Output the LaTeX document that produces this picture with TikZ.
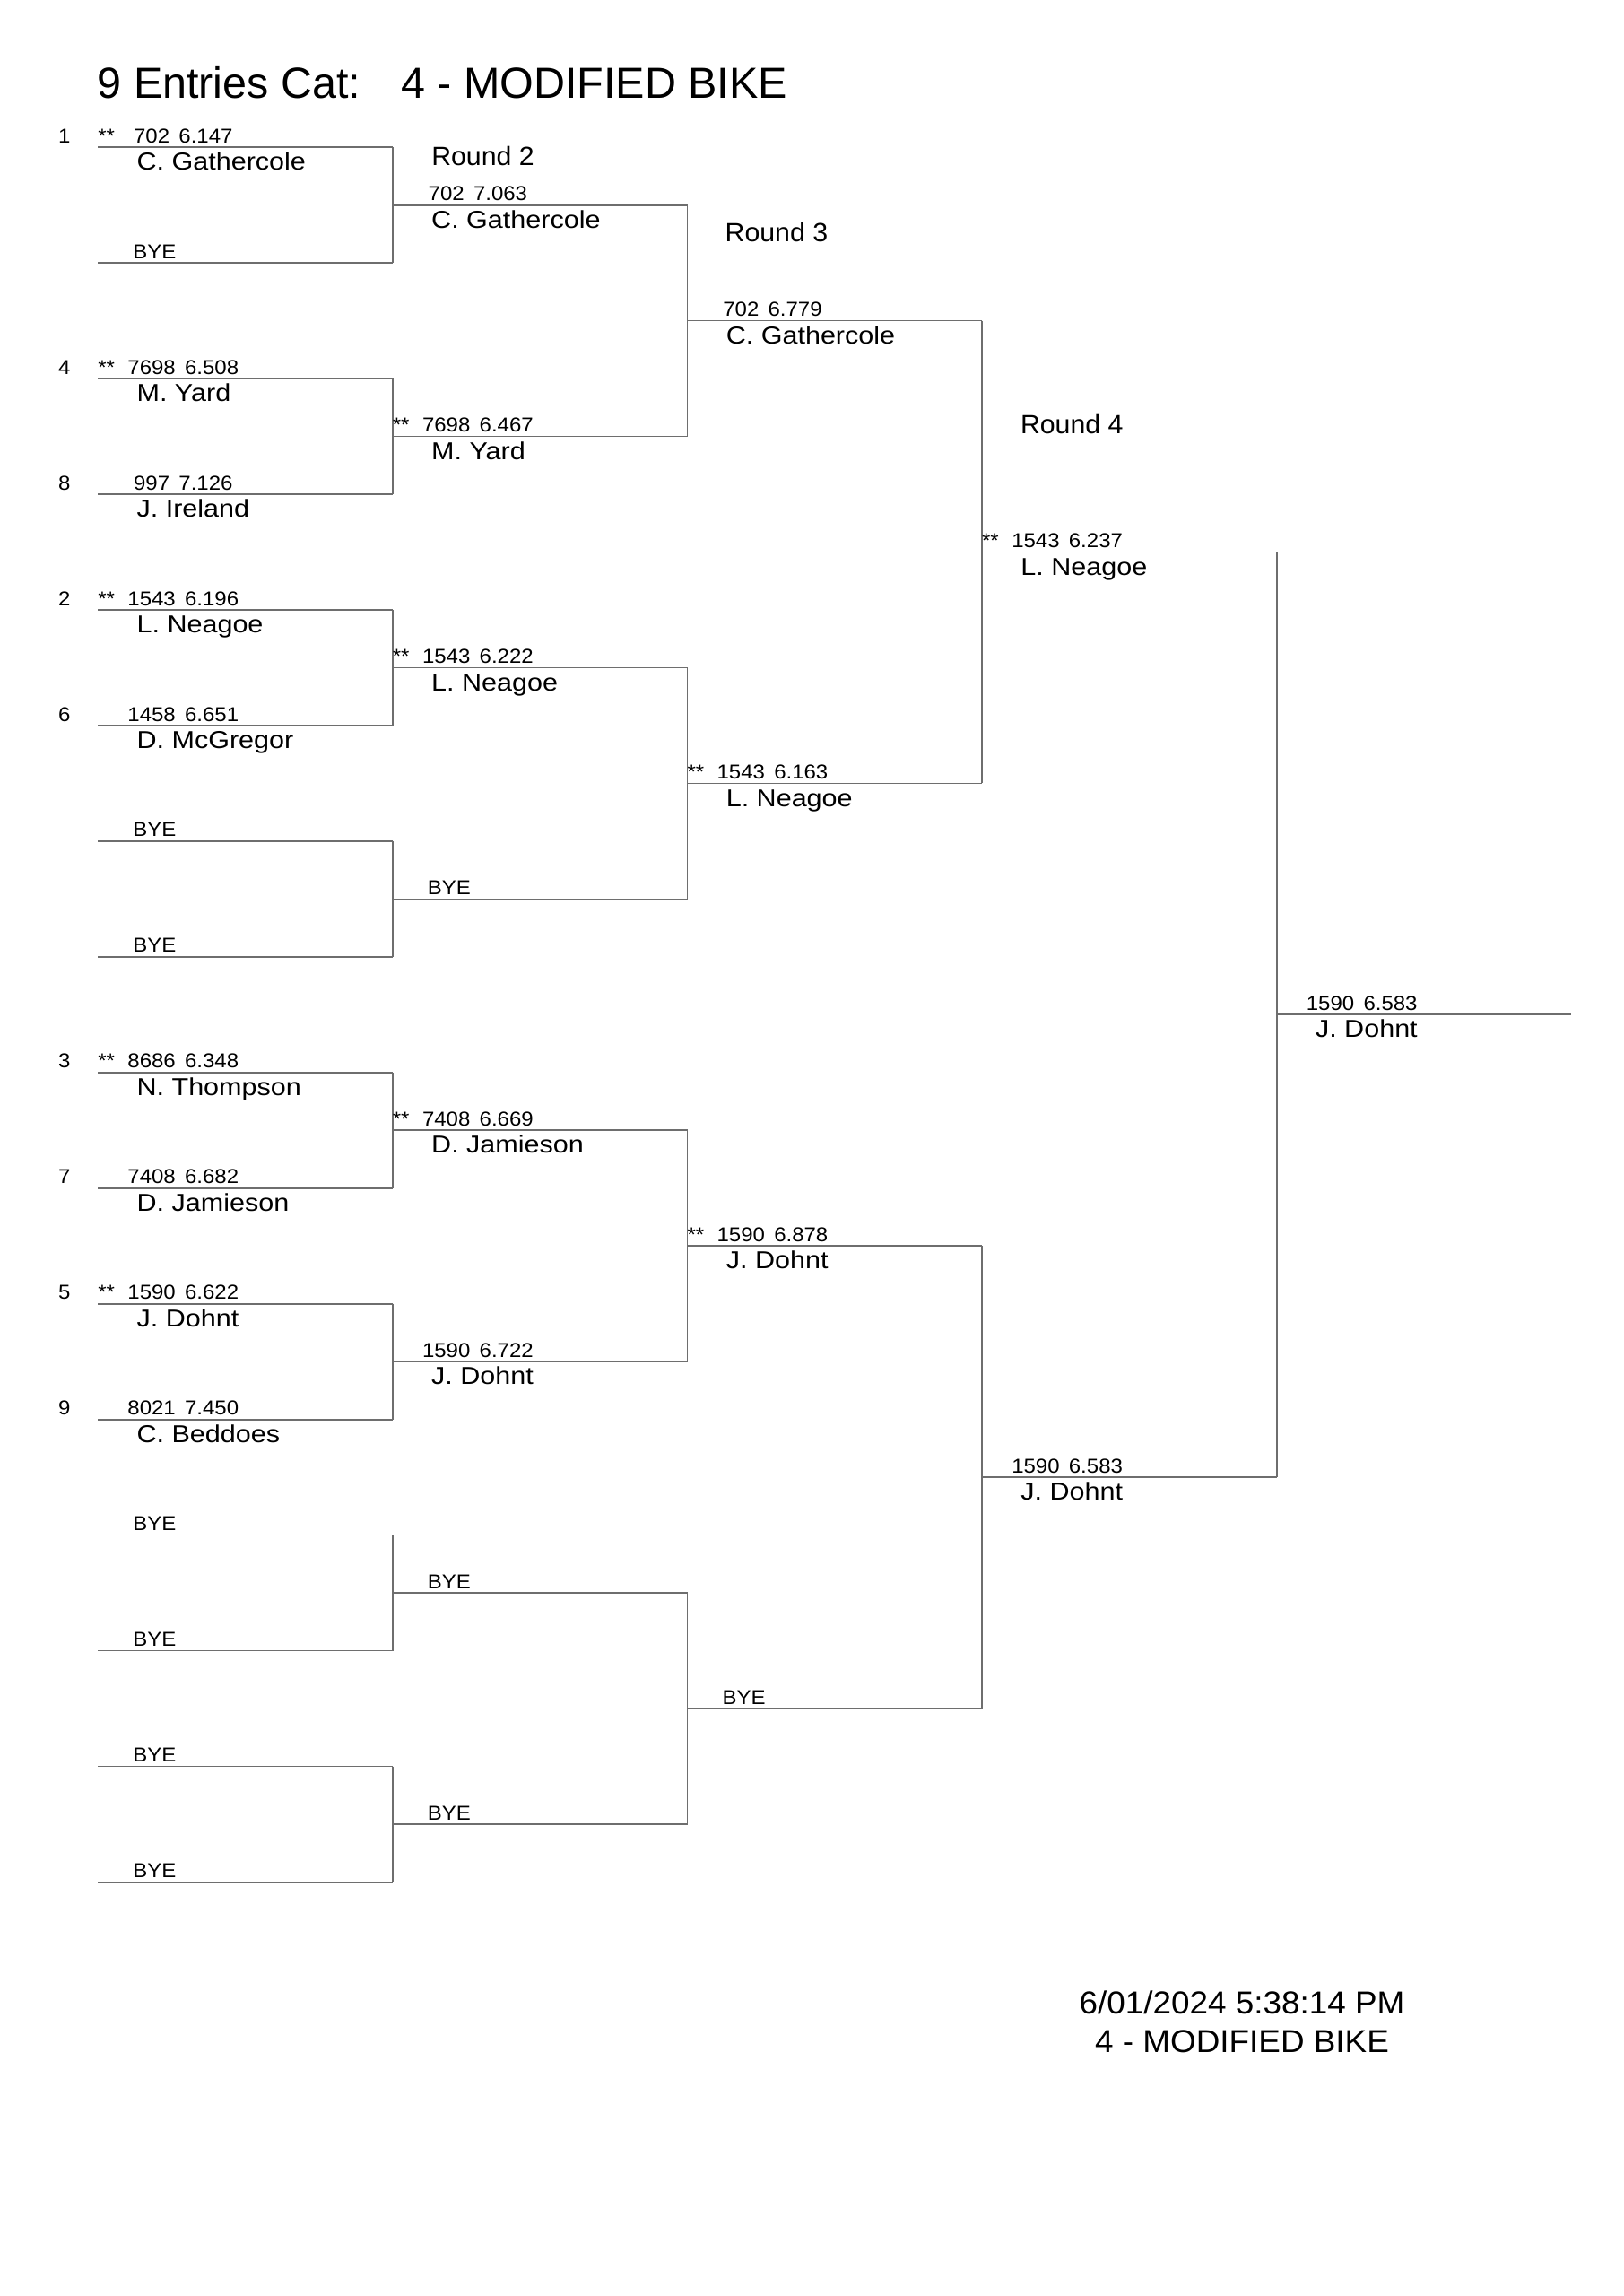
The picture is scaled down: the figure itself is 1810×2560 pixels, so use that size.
\documentclass[tikz,border=0pt]{standalone}
\usepackage{fontspec}
\setmainfont{Liberation Sans}
\newfontfamily\smallf[FakeStretch=1.07]{Liberation Sans}
\newfontfamily\namef[FakeStretch=1.12]{Liberation Sans}
\newfontfamily\roundf[FakeStretch=1.03]{Liberation Sans}
\newfontfamily\footf[FakeStretch=1.04]{Liberation Sans}
\usetikzlibrary{calc}
\definecolor{linegray}{RGB}{110,110,110}
\tikzset{
  ln/.style={draw=linegray, line width=0.2mm},
  sm/.style={font=\smallf\fontsize{7.4}{8.5}\selectfont, inner sep=0pt, outer sep=0pt, anchor=base west},
  smc/.style={sm, anchor=base},
  nm/.style={font=\namef\fontsize{9}{10.5}\selectfont, inner sep=0pt, outer sep=0pt, anchor=base west},
  rd/.style={font=\roundf\fontsize{9.7}{11}\selectfont, inner sep=0pt, outer sep=0pt, anchor=base west},
  ttl/.style={font=\fontsize{16}{19}\selectfont, inner sep=0pt, outer sep=0pt, anchor=base west},
  ft/.style={font=\footf\fontsize{11.7}{14}\selectfont, inner sep=0pt, outer sep=0pt, anchor=base}
}
\newcommand\Ln[4]{\coordinate (#1w) at (#2,#4); \coordinate (#1e) at (#3,#4); \draw[ln] (#1w) -- (#1e);}
\newcommand\St[1]{\node[sm] (#1s) at ($(#1w)+(0,-4.9)$) {**};}
\newcommand\Nu[3]{\node[smc] (#1n) at ($(#1w)+(95,-4.9)$) {#2\hspace{0.46em}#3};}
\newcommand\By[1]{\node[sm] (#1y) at ($(#1w)+(39,-5)$) {BYE};}
\newcommand\Na[2]{\node[nm] (#1m) at ($(#1w)+(43.3,25.6)$) {#2};}
\newcommand\Se[2]{\node[sm] (#1d) at ($(#1w -| seedx)+(0,-4.9)$) {#2};}
\newcommand\Vt[2]{\draw[ln] (#1e) -- (#2e);}
\begin{document}
\begin{tikzpicture}[x=0.11602mm, y=-0.11602mm]
\fill[white] (0,0) rectangle (1810,2560);
\useasboundingbox (0,0) rectangle (1810,2560);
\coordinate (seedx) at (65,0);

% title
\node[ttl] (title) at (108.7,109.3) {9 Entries Cat:\hspace{14.8pt}4 - MODIFIED BIKE};

% round labels
\node[rd] (round2) at (481.3,184.3) {Round 2};
\node[rd] (round3) at (808.7,270) {Round 3};
\node[rd] (round4) at (1138,483.3) {Round 4};

% ---------- Round 1 ----------
\Ln{a0}{109.3}{437.9}{164.2}   \Se{a0}{1}\St{a0}\Nu{a0}{702}{6.147}\Na{a0}{C. Gathercole}
\Ln{a1}{109.3}{437.9}{293.15}  \By{a1}
\Ln{a2}{109.3}{437.9}{422.1}   \Se{a2}{4}\St{a2}\Nu{a2}{7698}{6.508}\Na{a2}{M. Yard}
\Ln{a3}{109.3}{437.9}{551.05}  \Se{a3}{8}\Nu{a3}{997}{7.126}\Na{a3}{J. Ireland}
\Ln{a4}{109.3}{437.9}{680.0}   \Se{a4}{2}\St{a4}\Nu{a4}{1543}{6.196}\Na{a4}{L. Neagoe}
\Ln{a5}{109.3}{437.9}{808.95}  \Se{a5}{6}\Nu{a5}{1458}{6.651}\Na{a5}{D. McGregor}
\Ln{a6}{109.3}{437.9}{937.9}   \By{a6}
\Ln{a7}{109.3}{437.9}{1066.85} \By{a7}
\Ln{a8}{109.3}{437.9}{1195.8}  \Se{a8}{3}\St{a8}\Nu{a8}{8686}{6.348}\Na{a8}{N. Thompson}
\Ln{a9}{109.3}{437.9}{1324.75} \Se{a9}{7}\Nu{a9}{7408}{6.682}\Na{a9}{D. Jamieson}
\Ln{a10}{109.3}{437.9}{1453.7} \Se{a10}{5}\St{a10}\Nu{a10}{1590}{6.622}\Na{a10}{J. Dohnt}
\Ln{a11}{109.3}{437.9}{1582.65}\Se{a11}{9}\Nu{a11}{8021}{7.450}\Na{a11}{C. Beddoes}
\Ln{a12}{109.3}{437.9}{1711.6}  \By{a12}
\Ln{a13}{109.3}{437.9}{1840.55} \By{a13}
\Ln{a14}{109.3}{437.9}{1969.5}  \By{a14}
\Ln{a15}{109.3}{437.9}{2098.45} \By{a15}
\Vt{a0}{a1}\Vt{a2}{a3}\Vt{a4}{a5}\Vt{a6}{a7}
\Vt{a8}{a9}\Vt{a10}{a11}\Vt{a12}{a13}\Vt{a14}{a15}

% ---------- Round 2 ----------
\Ln{b0}{437.9}{766.5}{228.68}  \Nu{b0}{702}{7.063}\Na{b0}{C. Gathercole}
\Ln{b1}{437.9}{766.5}{486.58}  \St{b1}\Nu{b1}{7698}{6.467}\Na{b1}{M. Yard}
\Ln{b2}{437.9}{766.5}{744.48}  \St{b2}\Nu{b2}{1543}{6.222}\Na{b2}{L. Neagoe}
\Ln{b3}{437.9}{766.5}{1002.38} \By{b3}
\Ln{b4}{437.9}{766.5}{1260.28} \St{b4}\Nu{b4}{7408}{6.669}\Na{b4}{D. Jamieson}
\Ln{b5}{437.9}{766.5}{1518.18} \Nu{b5}{1590}{6.722}\Na{b5}{J. Dohnt}
\Ln{b6}{437.9}{766.5}{1776.08} \By{b6}
\Ln{b7}{437.9}{766.5}{2033.98} \By{b7}
\Vt{b0}{b1}\Vt{b2}{b3}\Vt{b4}{b5}\Vt{b6}{b7}

% ---------- Round 3 ----------
\Ln{c0}{766.5}{1095.1}{357.63}  \Nu{c0}{702}{6.779}\Na{c0}{C. Gathercole}
\Ln{c1}{766.5}{1095.1}{873.43}  \St{c1}\Nu{c1}{1543}{6.163}\Na{c1}{L. Neagoe}
\Ln{c2}{766.5}{1095.1}{1389.23} \St{c2}\Nu{c2}{1590}{6.878}\Na{c2}{J. Dohnt}
\Ln{c3}{766.5}{1095.1}{1905.03} \By{c3}
\Vt{c0}{c1}\Vt{c2}{c3}

% ---------- Round 4 ----------
\Ln{d0}{1095.1}{1423.7}{615.53}  \St{d0}\Nu{d0}{1543}{6.237}\Na{d0}{L. Neagoe}
\Ln{d1}{1095.1}{1423.7}{1647.13} \Nu{d1}{1590}{6.583}\Na{d1}{J. Dohnt}
\Vt{d0}{d1}

% ---------- Final ----------
\Ln{f0}{1423.7}{1752.3}{1131.33} \Nu{f0}{1590}{6.583}\Na{f0}{J. Dohnt}

% footer
\node[ft] (foot1) at (1385,2245) {6/01/2024 5:38:14 PM};
\node[ft] (foot2) at (1385,2288.3) {4 - MODIFIED BIKE};
\end{tikzpicture}
\end{document}
